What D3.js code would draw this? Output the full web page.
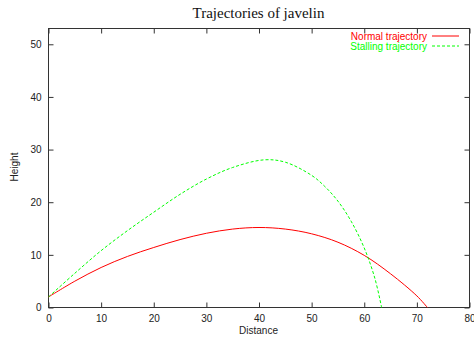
<!DOCTYPE html>
<html>
<head>
<meta charset="utf-8">
<script src="https://cdn.jsdelivr.net/npm/d3@7"></script>
<style>
  body { margin: 0; background: #fff; }
  svg { display: block; }
</style>
</head>
<body>
<div id="chart"></div>
<script>
/* global d3 */

const WIDTH = 474
const HEIGHT = 338

// distances
const normalDist = [0, 5, 10, 15, 20, 25, 30, 35, 40, 45, 50, 55, 60, 65, 70, 72]
const normalHeight = [2, 5.0, 7.6, 9.7, 11.4, 12.9, 14.1, 14.9, 15.2, 14.9, 14.0, 12.4, 9.9, 6.4, 2.2, 0]

const stallDist = [0, 5, 10, 15, 20, 25, 30, 35, 41, 45, 50, 52.5, 55, 57.5, 60, 62, 63.3]
const stallHeight = [2, 6.5, 10.8, 14.6, 18.1, 21.5, 24.4, 26.6, 28.05, 27.6, 25.1, 23.0, 20.2, 16.4, 11.3, 5.6, 0]

const xTicks = [0, 10, 20, 30, 40, 50, 60, 70, 80]
const yTicks = [0, 10, 20, 30, 40, 50]

const series = [
  { name: 'Normal trajectory', xs: normalDist, ys: normalHeight, color: '#ff0000', dash: null },
  { name: 'Stalling trajectory', xs: stallDist, ys: stallHeight, color: '#00ff00', dash: '3,2' }
]

const PLOT = { left: 48.5, right: 469.5, top: 28.5, bottom: 307.5 }

const svg = d3.select('#chart')
  .append('svg')
  .attr('width', WIDTH)
  .attr('height', HEIGHT)

const x = d3.scaleLinear().domain([0, 80]).range([PLOT.left, PLOT.right])
const y = d3.scaleLinear().domain([0, 53]).range([PLOT.bottom, PLOT.top])

const axisColor = '#333'
const labelFont = '"Liberation Sans", Arial, sans-serif'

// bottom axis with labels, ticks point inward
const axBottom = svg.append('g')
  .attr('transform', `translate(0,${PLOT.bottom})`)
  .call(d3.axisBottom(x).tickValues(xTicks).tickSize(-5).tickPadding(7).tickFormat(d3.format('d')))
// top mirror
const axTop = svg.append('g')
  .attr('transform', `translate(0,${PLOT.top})`)
  .call(d3.axisTop(x).tickValues(xTicks).tickSize(-5).tickFormat(''))
// left axis
const axLeft = svg.append('g')
  .attr('transform', `translate(${PLOT.left},0)`)
  .call(d3.axisLeft(y).tickValues(yTicks).tickSize(-5).tickPadding(7).tickFormat(d3.format('d')))
// right mirror
const axRight = svg.append('g')
  .attr('transform', `translate(${PLOT.right},0)`)
  .call(d3.axisRight(y).tickValues(yTicks).tickSize(-5).tickFormat(''))

;[axBottom, axTop, axLeft, axRight].forEach((g) => {
  g.select('.domain').remove()
  g.selectAll('.tick line').attr('stroke', axisColor)
  g.selectAll('.tick text')
    .attr('fill', '#222')
    .style('font-family', labelFont)
    .style('font-size', '10px')
})

// frame
svg.append('rect')
  .attr('x', PLOT.left)
  .attr('y', PLOT.top)
  .attr('width', PLOT.right - PLOT.left)
  .attr('height', PLOT.bottom - PLOT.top)
  .attr('fill', 'none')
  .attr('stroke', axisColor)
  .attr('stroke-width', 1)

// curves
const line = d3.line()
  .x((d) => x(d[0]))
  .y((d) => y(d[1]))
  .curve(d3.curveCatmullRom.alpha(0.5))

series.forEach((s) => {
  svg.append('path')
    .datum(s.xs.map((v, i) => [v, s.ys[i]]))
    .attr('d', line)
    .attr('fill', 'none')
    .attr('stroke', s.color)
    .attr('stroke-width', 1)
    .attr('stroke-dasharray', s.dash)
})

// legend, top right
const legend = svg.append('g')
series.forEach((s, i) => {
  const ly = 36 + i * 10
  legend.append('text')
    .attr('x', 427)
    .attr('y', ly + 3.5)
    .attr('text-anchor', 'end')
    .attr('fill', s.color)
    .style('font-family', labelFont)
    .style('font-size', '10px')
    .text(s.name)
  legend.append('line')
    .attr('x1', 432)
    .attr('x2', 459)
    .attr('y1', ly)
    .attr('y2', ly)
    .attr('stroke', s.color)
    .attr('stroke-width', 1)
    .attr('stroke-dasharray', s.dash)
})

// title and axis labels
svg.append('text')
  .attr('x', 258.5)
  .attr('y', 18)
  .attr('text-anchor', 'middle')
  .attr('fill', '#111')
  .style('font-family', '"Liberation Serif", "Times New Roman", serif')
  .style('font-size', '15px')
  .text('Trajectories of javelin')

svg.append('text')
  .attr('x', 258.5)
  .attr('y', 334)
  .attr('text-anchor', 'middle')
  .attr('fill', '#222')
  .style('font-family', labelFont)
  .style('font-size', '10px')
  .text('Distance')

svg.append('text')
  .attr('transform', 'translate(18,167) rotate(-90)')
  .attr('text-anchor', 'middle')
  .attr('fill', '#222')
  .style('font-family', labelFont)
  .style('font-size', '10px')
  .text('Height')
</script>
</body>
</html>
